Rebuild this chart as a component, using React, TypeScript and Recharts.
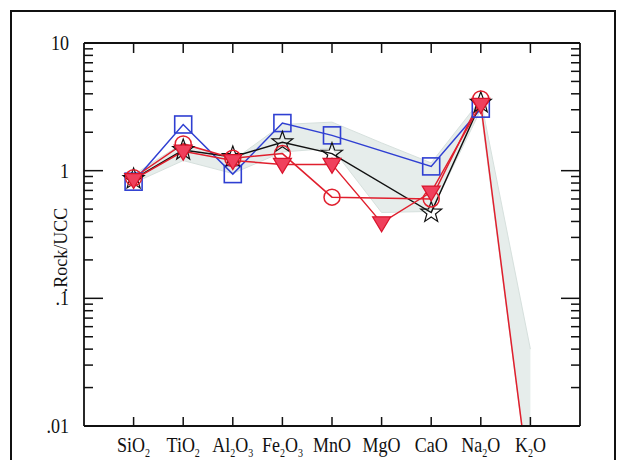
import { Area, ComposedChart, Line, XAxis, YAxis } from "recharts";

const categories = ["SiO2", "TiO2", "Al2O3", "Fe2O3", "MnO", "MgO", "CaO", "Na2O", "K2O"];
const blueSquares = [0.82, 2.3, 0.94, 2.36, 1.89, null, 1.08, 3.06, null];
const blackStars = [0.86, 1.45, 1.28, 1.67, 1.36, null, 0.47, 3.4, null];
const redCircles = [0.88, 1.62, 1.25, 1.36, 0.62, null, 0.6, 3.65, null];
const redTriangles = [0.85, 1.42, 1.2, 1.12, 1.12, 0.39, 0.68, 3.3, 0.003];
const rangeLow = [0.8, 1.2, 0.95, 1.4, 1.5, 0.47, 0.48, 3.0, 0.003];
const rangeHigh = [0.93, 1.65, 1.2, 2.3, 2.4, 1.65, 1.15, 3.6, 0.04];
const majorTicks = [0.01, 0.1, 1, 10];
const majorLabels = [".01", ".1", "1", "10"];

const data = categories.map((name, i) => ({
  x: i + 1,
  name,
  blue: blueSquares[i],
  black: blackStars[i],
  circle: redCircles[i],
  tri: redTriangles[i],
  env: [rangeLow[i], rangeHigh[i]],
}));

const xTicks = categories.map((_, i) => i + 1);
const yTicks = [
  ...majorTicks,
  ...[0.01, 0.1, 1].flatMap((d) => [2, 3, 4, 5, 6, 7, 8, 9].map((m) => d * m)),
];

const FONT = "'Liberation Serif', 'Times New Roman', serif";
const INK = "#111";
const STRETCH = 1.16;

const majorIndex = (v: number) => majorTicks.findIndex((t) => Math.abs(t - v) / t < 1e-6);

const chem = (s: string) =>
  s
    .split(/(\d)/)
    .filter(Boolean)
    .map((part, i) =>
      /\d/.test(part) ? (
        <tspan key={i} fontSize={10} dy={4}>
          {part}
        </tspan>
      ) : (
        <tspan key={i} dy={i === 0 ? 0 : -4}>
          {part}
        </tspan>
      )
    );

const BottomTick = (props: any) => {
  const { x, y, payload } = props;
  return (
    <g>
      <line x1={x} y1={y} x2={x} y2={y - 9} stroke={INK} strokeWidth={1.5} />
      <text
        transform={`translate(${x} ${y + 26}) scale(1 ${STRETCH})`}
        textAnchor="middle"
        fontFamily={FONT}
        fontSize={18}
        fill={INK}
      >
        {chem(categories[payload.value - 1])}
      </text>
    </g>
  );
};

const TopTick = (props: any) => {
  const { x, y } = props;
  return <line x1={x} y1={y} x2={x} y2={y + 10} stroke={INK} strokeWidth={1.5} />;
};

const LeftTick = (props: any) => {
  const { x, y, payload } = props;
  const mi = majorIndex(payload.value);
  return (
    <g>
      <line x1={x} y1={y} x2={x + (mi >= 0 ? 19 : 9)} y2={y} stroke={INK} strokeWidth={1.5} />
      {mi >= 0 && (
        <text
          transform={`translate(${x - 15} ${y + 7}) scale(1 ${STRETCH})`}
          textAnchor="end"
          fontFamily={FONT}
          fontSize={18}
          fill={INK}
        >
          {majorLabels[mi]}
        </text>
      )}
    </g>
  );
};

const RightTick = (props: any) => {
  const { x, y, payload } = props;
  const mi = majorIndex(payload.value);
  return <line x1={x} y1={y} x2={x - (mi >= 0 ? 19 : 9)} y2={y} stroke={INK} strokeWidth={1.5} />;
};

const ok = (p: any) => p.cx != null && p.cy != null && p.value != null && !Number.isNaN(p.cy);

const SquareDot = (p: any) =>
  ok(p) ? (
    <rect key={p.index} x={p.cx - 8.5} y={p.cy - 8.5} width={17} height={17} fill="none" stroke="#2f3fd2" strokeWidth={1.6} />
  ) : (
    <g key={p.index} />
  );

const starPoints = (cx: number, cy: number, R: number, r: number) =>
  Array.from({ length: 10 }, (_, k) => {
    const a = -Math.PI / 2 + (k * Math.PI) / 5;
    const rad = k % 2 === 0 ? R : r;
    return `${cx + rad * Math.cos(a)},${cy + rad * Math.sin(a)}`;
  }).join(" ");

const StarDot = (p: any) =>
  ok(p) ? (
    <polygon key={p.index} points={starPoints(p.cx, p.cy, 11, 4.5)} fill="none" stroke={INK} strokeWidth={1.2} />
  ) : (
    <g key={p.index} />
  );

const CircleDot = (p: any) =>
  ok(p) ? (
    <circle key={p.index} cx={p.cx} cy={p.cy} r={8} fill="none" stroke="#e01f2d" strokeWidth={1.5} />
  ) : (
    <g key={p.index} />
  );

const TriangleDot = (p: any) =>
  ok(p) ? (
    <polygon
      key={p.index}
      points={`${p.cx - 9},${p.cy - 6} ${p.cx + 9},${p.cy - 6} ${p.cx},${p.cy + 9}`}
      fill="#f0405c"
      stroke="#d8142c"
      strokeWidth={1.2}
    />
  ) : (
    <g key={p.index} />
  );

const YLabel = (props: any) => {
  const vb = props.viewBox;
  const cx = vb.x + vb.width - 23;
  const cy = 250;
  return (
    <text
      x={cx}
      y={cy}
      textAnchor="middle"
      dominantBaseline="central"
      fontFamily={FONT}
      fontSize={18}
      fill={INK}
      transform={`rotate(-90 ${cx} ${cy})`}
    >
      .Rock/UCC
    </text>
  );
};

export default function App() {
  return (
    <div style={{ position: "absolute", left: 0, top: 0, width: 618, height: 460, overflow: "hidden", background: "#fff" }}>
      <div
        style={{
          position: "absolute",
          left: 10,
          top: 10,
          width: 606,
          height: 500,
          border: "2px solid #111",
          boxSizing: "border-box",
        }}
      />
      <ComposedChart width={618} height={460} data={data} margin={{ top: 33, right: 28, bottom: 4, left: 24 }}>
        <XAxis
          xAxisId="b"
          dataKey="x"
          type="number"
          domain={[0, 10]}
          ticks={xTicks}
          orientation="bottom"
          height={30}
          tickSize={0}
          tickMargin={0}
          tick={BottomTick}
          axisLine={{ stroke: INK, strokeWidth: 1.8 }}
          tickLine={false}
          interval={0}
        />
        <XAxis
          xAxisId="t"
          dataKey="x"
          type="number"
          domain={[0, 10]}
          ticks={xTicks}
          orientation="top"
          height={10}
          tickSize={0}
          tickMargin={0}
          tick={TopTick}
          axisLine={{ stroke: INK, strokeWidth: 1.8 }}
          tickLine={false}
          interval={0}
        />
        <YAxis
          yAxisId="l"
          type="number"
          scale="log"
          domain={[0.01, 10]}
          allowDataOverflow
          ticks={yTicks}
          width={60}
          tickSize={0}
          tickMargin={0}
          tick={LeftTick}
          axisLine={{ stroke: INK, strokeWidth: 1.8 }}
          tickLine={false}
          interval={0}
          label={{ content: YLabel }}
        />
        <YAxis
          yAxisId="r"
          orientation="right"
          type="number"
          scale="log"
          domain={[0.01, 10]}
          allowDataOverflow
          ticks={yTicks}
          width={10}
          tickSize={0}
          tickMargin={0}
          tick={RightTick}
          axisLine={{ stroke: INK, strokeWidth: 1.8 }}
          tickLine={false}
          interval={0}
        />
        <Area
          xAxisId="b"
          yAxisId="l"
          dataKey="env"
          type="linear"
          fill="#e6edeb"
          fillOpacity={1}
          stroke="#d6e0dd"
          strokeWidth={1}
          dot={false}
          activeDot={false}
          isAnimationActive={false}
        />
        <Line xAxisId="b" yAxisId="l" dataKey="blue" type="linear" stroke="#2f3fd2" strokeWidth={1.5} connectNulls dot={SquareDot} activeDot={false} isAnimationActive={false} />
        <Line xAxisId="b" yAxisId="l" dataKey="black" type="linear" stroke={INK} strokeWidth={1.5} connectNulls dot={StarDot} activeDot={false} isAnimationActive={false} />
        <Line xAxisId="b" yAxisId="l" dataKey="circle" type="linear" stroke="#e01f2d" strokeWidth={1.5} connectNulls dot={CircleDot} activeDot={false} isAnimationActive={false} />
        <Line xAxisId="b" yAxisId="l" dataKey="tri" type="linear" stroke="#e01f2d" strokeWidth={1.5} connectNulls dot={TriangleDot} activeDot={false} isAnimationActive={false} />
      </ComposedChart>
    </div>
  );
}
